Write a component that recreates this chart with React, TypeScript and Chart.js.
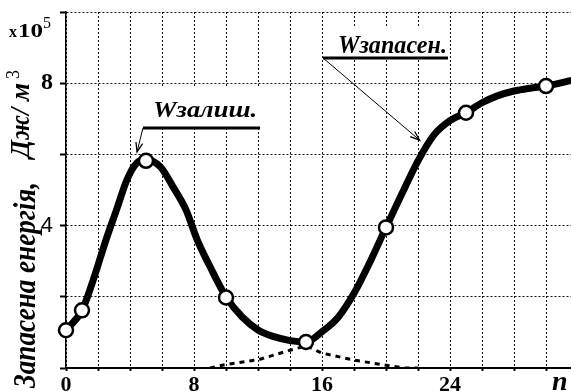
import React, { useEffect, useRef } from 'react';
import { Chart, registerables } from 'chart.js';

Chart.register(...registerables);

// ---- data ----
const markerN = [0, 1, 5, 10, 15, 20, 25, 30];
const markerW = [1.06, 1.62, 5.82, 1.98, 0.73, 3.95, 7.17, 7.92];

const curveN = [0, 1, 1.7, 2.5, 3.2, 3.8, 4.4, 5, 5.9, 6.7, 7.5, 8.2, 9, 10, 11, 12, 13, 14, 15, 16, 17, 18, 19, 20, 21, 22, 23, 24, 25, 26, 27, 28, 29, 30, 31.6];
const curveW = [1.06, 1.62, 2.47, 3.6, 4.5, 5.28, 5.75, 5.85, 5.65, 5.08, 4.44, 3.6, 2.85, 2.0, 1.44, 1.07, 0.88, 0.77, 0.73, 1.02, 1.42, 2.1, 2.98, 3.95, 4.9, 5.82, 6.55, 6.95, 7.17, 7.45, 7.65, 7.78, 7.86, 7.92, 8.08];

const dashN = [9, 10, 12, 14, 15, 16, 18, 20, 21.2, 22];
const dashW = [0, 0.1, 0.23, 0.5, 0.62, 0.42, 0.22, 0.08, 0, 0];

const xTickLabels = ['0', '8', '16', '24'];
const yTickLabels = ['4', '8'];

const labelRemain = 'Wзалиш.';
const labelStored = 'Wзапасен.';
const yTitleMain = 'Запасена енергія,';
const yTitleUnit = 'Дж/ м';
const xTitle = 'n';

const SERIF = '"Liberation Serif", "Times New Roman", serif';
const SANS = '"Liberation Sans", Arial, sans-serif';

function fitText(ctx: CanvasRenderingContext2D, text: string, x: number, y: number, w: number) {
  const m = ctx.measureText(text).width;
  ctx.save();
  ctx.translate(x, y);
  ctx.scale(w / m, 1);
  ctx.fillText(text, 0, 0);
  ctx.restore();
}

function arrow(ctx: CanvasRenderingContext2D, x1: number, y1: number, x2: number, y2: number) {
  ctx.save();
  ctx.strokeStyle = '#000';
  ctx.lineWidth = 1;
  ctx.beginPath();
  ctx.moveTo(x1, y1);
  ctx.lineTo(x2, y2);
  ctx.stroke();
  const a = Math.atan2(y2 - y1, x2 - x1);
  const L = 10;
  const s = 0.35;
  ctx.lineWidth = 1.3;
  ctx.beginPath();
  ctx.moveTo(x2 - L * Math.cos(a - s), y2 - L * Math.sin(a - s));
  ctx.lineTo(x2, y2);
  ctx.lineTo(x2 - L * Math.cos(a + s), y2 - L * Math.sin(a + s));
  ctx.stroke();
  ctx.restore();
}

const annotPlugin = {
  id: 'annot',
  beforeDatasetsDraw(chart: any) {
    const { ctx, scales } = chart;
    const x = scales.x, y = scales.y;
    ctx.save();
    ctx.fillStyle = '#fff';
    const box = (x0: number, x1: number, y0: number, y1: number) => {
      const px0 = x.getPixelForValue(x0), px1 = x.getPixelForValue(x1);
      const py0 = y.getPixelForValue(y0), py1 = y.getPixelForValue(y1);
      ctx.fillRect(px0, py0, px1 - px0, py1 - py0);
    };
    box(5.25, 12.25, 7.87, 6.8);
    box(16.69, 24.0, 9.55, 8.74);
    ctx.restore();
  },
  afterDraw(chart: any) {
    const { ctx, scales, chartArea } = chart;
    const x = scales.x, y = scales.y;
    const X = (v: number) => x.getPixelForValue(v);
    const Y = (v: number) => y.getPixelForValue(v);
    ctx.save();
    ctx.fillStyle = '#000';
    ctx.strokeStyle = '#000';
    ctx.textBaseline = 'alphabetic';
    ctx.textAlign = 'left';

    // W залиш.
    ctx.font = `italic bold 24px ${SERIF}`;
    fitText(ctx, labelRemain, X(5.44), Y(7.05), X(11.94) - X(5.44));
    ctx.lineWidth = 3;
    ctx.beginPath();
    ctx.moveTo(X(4.81), Y(6.74));
    ctx.lineTo(X(12.13), Y(6.74));
    ctx.stroke();
    arrow(ctx, X(4.81), Y(6.74), X(4.44), Y(6.07));

    // W запасен.
    ctx.font = `italic bold 26px ${SERIF}`;
    fitText(ctx, labelStored, X(17.0), Y(8.85), X(23.81) - X(17.0));
    ctx.lineWidth = 3;
    ctx.beginPath();
    ctx.moveTo(X(16.06), Y(8.71));
    ctx.lineTo(X(23.875), Y(8.71));
    ctx.stroke();
    arrow(ctx, X(16.06), Y(8.71), X(22.1), Y(6.4));

    // x10^5
    ctx.font = `bold 16px ${SERIF}`;
    ctx.fillText('x', chartArea.left - 57, chartArea.top + 25);
    ctx.font = `bold 19px ${SERIF}`;
    fitText(ctx, '10', chartArea.left - 48, chartArea.top + 25, 25);
    ctx.font = `16px ${SERIF}`;
    ctx.fillText('5', chartArea.left - 23, chartArea.top + 16);

    // axis title (rotated)
    ctx.save();
    ctx.translate(chartArea.left - 31, chartArea.top + 376);
    ctx.rotate(-Math.PI / 2);
    ctx.font = `italic bold 32px ${SERIF}`;
    fitText(ctx, yTitleMain, 0, 0, 206);
    ctx.restore();

    ctx.save();
    ctx.translate(chartArea.left - 37, chartArea.top + 146);
    ctx.rotate(-Math.PI / 2);
    ctx.font = `italic bold 28px ${SERIF}`;
    fitText(ctx, yTitleUnit, 0, 0, 75);
    ctx.font = `18px ${SERIF}`;
    ctx.fillText('3', 79, -10);
    ctx.restore();

    // n
    ctx.font = `italic bold 28px ${SERIF}`;
    ctx.fillText(xTitle, chartArea.right - 19, chartArea.bottom + 22);
    ctx.restore();
  },
};

export default function App() {
  const ref = useRef<HTMLCanvasElement | null>(null);
  useEffect(() => {
    if (!ref.current) return;
    const chart = new Chart(ref.current, {
      type: 'line',
      data: {
        datasets: [
          {
            label: 'markers',
            data: markerN.map((n, i) => ({ x: n, y: markerW[i] })),
            showLine: false,
            clip: false,
            pointRadius: 7,
            pointBackgroundColor: '#fff',
            pointBorderColor: '#000',
            pointBorderWidth: 2.5,
          },
          {
            label: 'curve',
            data: curveN.map((n, i) => ({ x: n, y: curveW[i] })),
            borderColor: '#000',
            borderWidth: 7,
            pointRadius: 0,
            cubicInterpolationMode: 'monotone',
            borderCapStyle: 'round',
            borderJoinStyle: 'round',
          },
          {
            label: 'dash',
            data: dashN.map((n, i) => ({ x: n, y: dashW[i] })),
            borderColor: '#000',
            borderWidth: 3,
            borderDash: [5, 5],
            pointRadius: 0,
            tension: 0,
          },
        ],
      },
      options: {
        animation: false,
        responsive: false,
        devicePixelRatio: 1,
        layout: { padding: { top: 12, right: 0, left: 0, bottom: 0 }, autoPadding: false },
        plugins: { legend: { display: false }, tooltip: { enabled: false } },
        scales: {
          x: {
            type: 'linear',
            min: 0,
            max: 31.5625,
            afterBuildTicks: (s: any) => {
              const t = [];
              for (let v = 0; v <= 30; v += 2) t.push({ value: v });
              s.ticks = t;
            },
            afterFit: (s: any) => {
              s.height = 23;
              s.paddingLeft = 0;
              s.paddingRight = 0;
            },
            grid: { color: '#111', lineWidth: 1, tickLength: 3, tickColor: '#000', tickWidth: 2 },
            border: { display: true, color: '#000', width: 2, dash: [2, 2] },
            ticks: {
              autoSkip: false,
              maxRotation: 0,
              padding: 1,
              color: '#000',
              font: { family: SERIF, size: 22, weight: 'bold' },
              callback: (v: any) => (xTickLabels.includes(String(v)) ? String(v) : ''),
            },
          },
          y: {
            type: 'linear',
            min: 0,
            max: 10,
            afterBuildTicks: (s: any) => {
              const t = [];
              for (let v = 0; v <= 10; v += 2) t.push({ value: v });
              s.ticks = t;
            },
            afterFit: (s: any) => {
              s.width = 66;
              s.paddingTop = 0;
              s.paddingBottom = 0;
            },
            grid: { color: '#111', lineWidth: 1, tickLength: 6, tickColor: '#000', tickWidth: 2 },
            border: { display: true, color: '#000', width: 1.5, dash: [2, 2] },
            ticks: {
              padding: 7,
              color: '#000',
              font: (c: any) =>
                c.tick && c.tick.value === 4
                  ? { family: SANS, size: 22 }
                  : { family: SERIF, size: 24, weight: 'bold' },
              callback: (v: any) => (yTickLabels.includes(String(v)) ? String(v) : ''),
            },
          },
        },
      },
      plugins: [annotPlugin],
    } as any);
    return () => chart.destroy();
  }, []);

  return (
    <div style={{ position: 'absolute', left: 0, top: 0, width: 571, height: 391, background: '#fff' }}>
      <canvas ref={ref} width={571} height={391} style={{ display: 'block', width: 571, height: 391 }} />
    </div>
  );
}
